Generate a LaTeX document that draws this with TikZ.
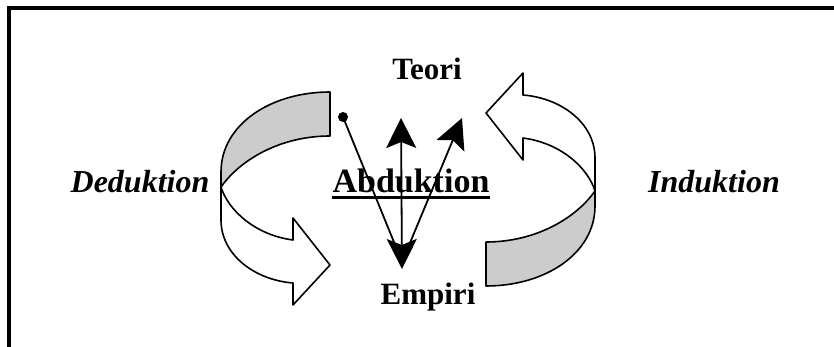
\documentclass[tikz,border=0pt]{standalone}
\usepackage{fontspec}
\setmainfont{Liberation Serif}
\usetikzlibrary{arrows.meta}

\newcommand{\ribbon}{%
  \filldraw[band] (330,92) .. controls (270,92) and (221,125) .. (221,172)
    -- (221,187) .. controls (240,160) and (280,136) .. (330,136) -- cycle;
  \filldraw[front] (221,187) .. controls (228,210) and (255,235) .. (293,240)
    -- (293,218) -- (330,265) -- (293,305) -- (293,283)
    .. controls (255,280) and (221,255) .. (221,220) -- cycle;
}

\begin{document}
\begin{tikzpicture}[x=1pt, y=-1pt,
    >={Stealth[length=30pt,width=30pt,inset=6pt]},
    band/.style   = {draw=black, fill=gray!40, line width=1.6pt, line join=round},
    front/.style  = {draw=black, fill=white, line width=1.6pt, line join=round},
    frame/.style  = {line width=4pt},
    link/.style   = {line width=1.8pt},
    label/.style  = {anchor=base, inner sep=0pt, font=\fontsize{31}{36}\selectfont\bfseries},
    method/.style = {anchor=base, inner sep=0pt, font=\fontsize{32}{38}\selectfont\bfseries\itshape},
    abduct/.style = {anchor=base, inner sep=0pt, font=\fontsize{34}{40}\selectfont\bfseries},
  ]
  \useasboundingbox (0,0) rectangle (834,347);
  \draw[frame] (9,360) -- (9,8) -- (850,8);

  \ribbon
  \begin{scope}[rotate around={180:(408,189)}]
    \ribbon
  \end{scope}

  \node[label]  (teori)  at (427,80)  {Teori};
  \node[label]  (empiri) at (428,304) {Empiri};
  \node[abduct] (abduk)  at (411,193) {Abduktion};
  \node[method] (deduk)  at (140,193) {Deduktion};
  \node[method] (induk)  at (714,193) {Induktion};
  \draw[line width=3pt] ([yshift=-5pt]abduk.base west) -- ([yshift=-5pt]abduk.base east);

  \coordinate (dot)   at (343,117);
  \coordinate (tipA)  at (401,118);
  \coordinate (tipB)  at (462,118);
  \coordinate (bot)   at (402,269);
  \coordinate (footL) at (398,252);
  \coordinate (footR) at (407,250);

  \fill (dot) circle[radius=5pt];
  \draw[link] (dot) -- (footL);
  \draw[link, <->] (bot) -- (tipA);
  \draw[link, ->] (footR) -- (tipB);
\end{tikzpicture}
\end{document}
